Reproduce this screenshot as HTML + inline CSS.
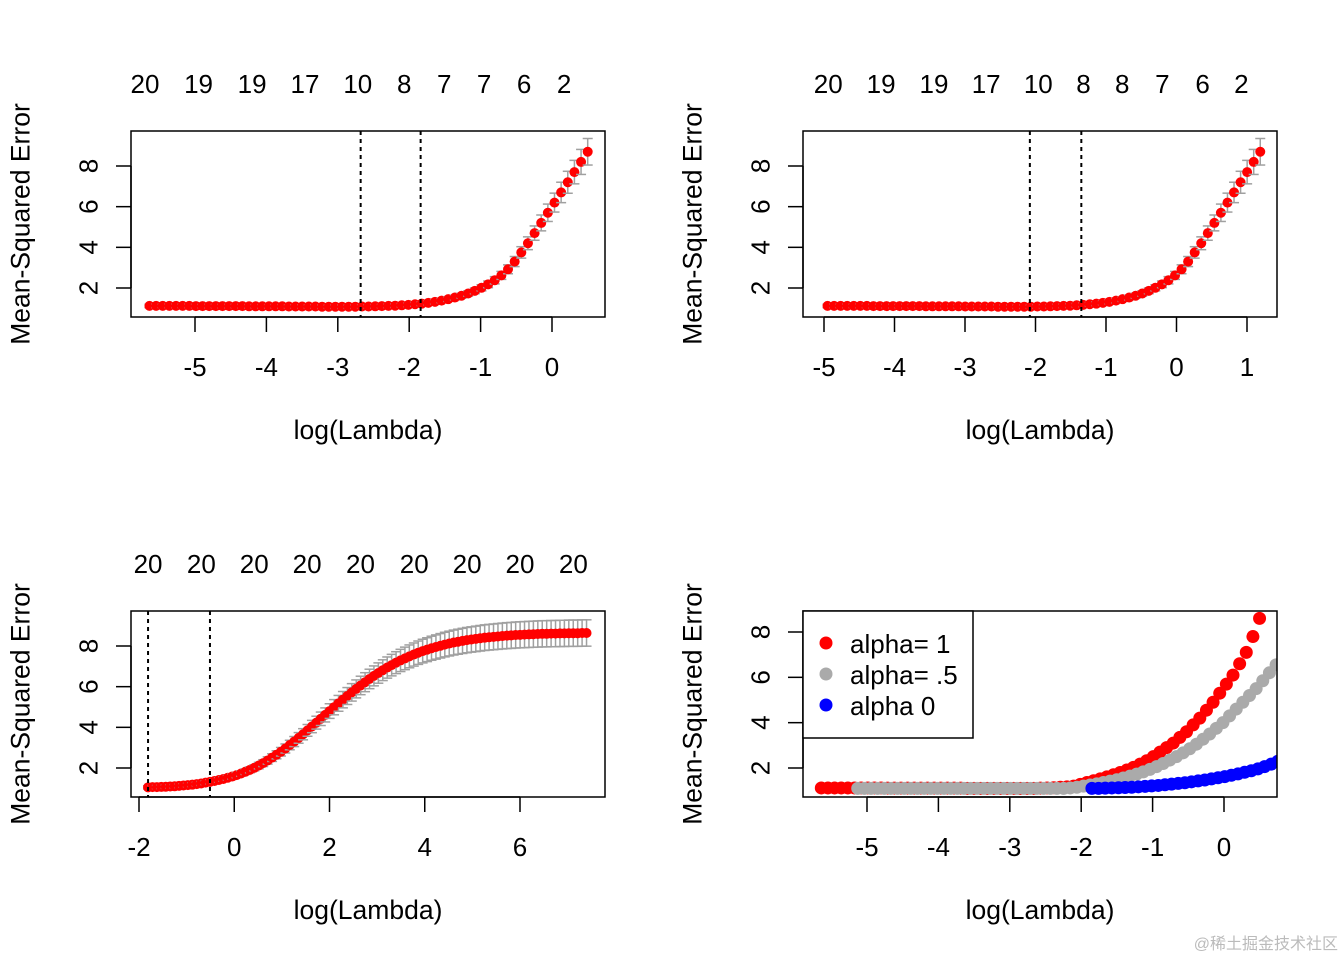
<!DOCTYPE html>
<html><head><meta charset="utf-8"><style>
html,body{margin:0;padding:0;background:#fff;width:1344px;height:960px;overflow:hidden}
svg{display:block;font-family:"Liberation Sans",Arial,sans-serif}
</style></head><body>
<svg id="chart" width="1344" height="960" viewBox="0 0 1344 960" xmlns="http://www.w3.org/2000/svg">
<text x="1338" y="949" text-anchor="end" font-size="16" fill="#bbb" font-family="'Liberation Sans','Noto Sans CJK SC',sans-serif">@稀土掘金技术社区</text>
</svg>
<script>
// ---- data ----
const step = 0.093;
const p1Start = -5.638;
const p1Mse = [1.12,1.12,1.12,1.12,1.12,1.12,1.12,1.11,1.11,1.11,1.11,1.11,1.11,1.11,1.11,1.10,1.10,1.10,1.10,1.10,1.10,
 1.09,1.09,1.09,1.09,1.09,1.08,1.08,1.08,1.08,1.08,1.08,1.09,1.09,
 1.10,1.11,1.12,1.13,1.15,1.17,1.20,1.23,1.27,1.32,
 1.38,1.45,1.53,1.62,1.73,1.86,2.01,2.18,2.38,2.62,2.92,
 3.3,3.75,4.2,4.7,5.2,5.7,6.2,6.7,7.2,7.7,8.2,8.7];
const p1Top = ["20","19","19","17","10","8","7","7","6","2"];
const p1TopX = [-5.7,-4.95,-4.2,-3.46,-2.72,-2.07,-1.51,-0.95,-0.39,0.17];
const p1VLines = [-2.68,-1.84];
const p1XTicks = [-5,-4,-3,-2,-1,0];

const p2Start = -4.95;
const p2Mse = p1Mse.slice();
const p2Top = ["20","19","19","17","10","8","8","7","6","2"];
const p2TopX = [-4.94,-4.19,-3.44,-2.70,-1.96,-1.32,-0.77,-0.20,0.37,0.92];
const p2VLines = [-2.08,-1.35];
const p2XTicks = [-5,-4,-3,-2,-1,0,1];

const p3Start = -1.81;
const p3Mse = [1.05,1.06,1.06,1.07,1.08,1.09,1.10,1.12,1.14,1.16,
 1.18,1.21,1.24,1.28,1.32,1.36,1.41,1.46,1.52,1.58,
 1.65,1.73,1.82,1.91,2.01,2.12,2.24,2.37,2.51,2.65,
 2.8,2.96,3.13,3.3,3.48,3.66,3.85,4.04,4.23,4.42,
 4.61,4.8,4.99,5.18,5.36,5.54,5.72,5.89,6.06,6.22,
 6.38,6.53,6.67,6.81,6.94,7.06,7.18,7.29,7.39,7.49,
 7.58,7.67,7.75,7.82,7.89,7.95,8.01,8.07,8.12,8.17,
 8.21,8.25,8.29,8.32,8.35,8.38,8.41,8.43,8.45,8.47,
 8.49,8.51,8.52,8.54,8.55,8.56,8.57,8.58,8.59,8.6,
 8.6,8.61,8.61,8.62,8.62,8.63,8.63,8.63,8.64,8.64];
const p3Top = ["20","20","20","20","20","20","20","20","20"];
const p3TopX = [-1.81,-0.69,0.42,1.53,2.65,3.78,4.89,6.00,7.12];
const p3VLines = [-1.81,-0.51];
const p3XTicks = [-2,0,2,4,6];

const p4RedStart = -5.64;
const p4Red = [1.12,1.12,1.12,1.12,1.12,1.12,1.12,1.12,1.12,1.12,1.11,1.11,1.11,1.11,1.11,1.11,1.11,1.11,1.11,1.11,
 1.11,1.11,1.1,1.1,1.1,1.1,1.1,1.1,1.1,1.1,1.1,1.1,1.1,1.11,1.12,1.13,1.15,1.17,
 1.2,1.28,1.36,1.44,1.52,1.61,1.7,1.8,1.91,2.03,2.17,2.32,2.5,2.7,2.9,3.1,3.35,3.6,
 3.9,4.2,4.55,4.9,5.3,5.7,6.1,6.6,7.1,7.8,8.6];
const p4GrayStart = -5.13;
const p4Gray = [1.1,1.1,1.1,1.1,1.1,1.1,1.1,1.1,1.1,1.1,1.1,1.1,1.1,1.1,1.1,1.1,1.1,1.1,1.1,1.1,
 1.1,1.1,1.1,1.1,1.1,1.1,1.1,1.1,1.1,1.1,1.1,1.1,1.12,1.15,1.2,1.25,1.3,1.36,1.42,1.48,
 1.56,1.64,1.73,1.83,1.94,2.06,2.2,2.35,2.5,2.67,2.85,3.05,3.27,3.5,3.75,4.0,4.3,4.6,4.9,5.2,
 5.5,5.85,6.2,6.55];
const p4BlueStart = -1.85;
const p4Blue = [1.1,1.1,1.11,1.12,1.13,1.14,1.15,1.17,1.19,1.21,1.23,1.26,1.29,1.32,1.35,1.39,1.43,1.47,1.52,1.57,
 1.62,1.68,1.74,1.81,1.88,1.96,2.06,2.17,2.3,2.44];
const p4XTicks = [-5,-4,-3,-2,-1,0];
const legendLabels = ["alpha= 1","alpha= .5","alpha 0"];
const yTicks = [2,4,6,8];

// ---- drawing ----
const NS = "http://www.w3.org/2000/svg";
const svg = document.getElementById('chart');
const FS = 26;
function mk(tag, attrs, parent){
  const e = document.createElementNS(NS, tag);
  for (const k in attrs) e.setAttribute(k, attrs[k]);
  (parent||svg).appendChild(e);
  return e;
}
function makeScale(d0,d1,r0,r1){ return v => r0 + (v-d0)/(d1-d0)*(r1-r0); }

function panel(cfg){
  const g = mk('g',{});
  
  
  const X = makeScale(cfg.xa[0],cfg.xa[1],cfg.xp[0],cfg.xp[1]);
  const Y = makeScale(2,8,cfg.yp[0],cfg.yp[1]);
  const L=cfg.box[0], T=cfg.box[1], R=cfg.box[2], B=cfg.box[3];
  const clipId = cfg.name+'-clip';
  const cp = mk('clipPath',{id:clipId},g);
  mk('rect',{x:L,y:T,width:R-L,height:B-T},cp);
  const plot = mk('g',{'clip-path':'url(#'+clipId+')'},g);
  cfg.series.forEach(s=>{
    const sg = mk('g',{},plot);
    
    
    s.vals.forEach((v,i)=>{
      const xv = s.start + step*i;
      const cx = X(xv), cy = Y(v);
      if (s.err){
        const se = v*0.075;
        const y1 = Y(v+se), y2 = Y(v-se);
        mk('line',{x1:cx,x2:cx,y1:y1,y2:y2,stroke:'#a0a0a0','stroke-width':1.5},sg);
        mk('line',{x1:cx-5,x2:cx+5,y1:y1,y2:y1,stroke:'#a0a0a0','stroke-width':1.5},sg);
        mk('line',{x1:cx-5,x2:cx+5,y1:y2,y2:y2,stroke:'#a0a0a0','stroke-width':1.5},sg);
      }
      const c = mk('circle',{cx:cx,cy:cy,r:s.r,fill:s.color},sg);
      
      
    });
  });
  (cfg.vlines||[]).forEach(v=>{
    const l = mk('line',{x1:X(v),x2:X(v),y1:T,y2:B,stroke:'#000','stroke-width':2,'stroke-dasharray':'4,4'},g);
    
    
  });
  const bx = mk('rect',{x:L,y:T,width:R-L,height:B-T,fill:'none',stroke:'#000','stroke-width':1.5},g);
  
  
  const xt = cfg.xticks;
  mk('line',{x1:X(xt[0]),x2:X(xt[xt.length-1]),y1:B,y2:B,stroke:'#000','stroke-width':1.5},g);
  xt.forEach(t=>{
    mk('line',{x1:X(t),x2:X(t),y1:B,y2:B+15,stroke:'#000','stroke-width':1.5},g);
    const tx = mk('text',{x:X(t),y:B+59,'text-anchor':'middle','font-size':FS},g);
    tx.textContent = t<0 ? '-'+Math.abs(t) : String(t);
    
    
  });
  yTicks.forEach(t=>{
    mk('line',{x1:L-15,x2:L,y1:Y(t),y2:Y(t),stroke:'#000','stroke-width':1.5},g);
    const tx = mk('text',{x:L-43,y:Y(t),'text-anchor':'middle','font-size':FS,transform:'rotate(-90 '+(L-43)+' '+Y(t)+')',dy:'0.36em'},g);
    tx.textContent = String(t);
    
    
  });
  mk('line',{x1:L,x2:L,y1:Y(2),y2:Y(8),stroke:'#000','stroke-width':1.5},g);
  (cfg.top||[]).forEach((lab,i)=>{
    const tx = mk('text',{x:X(cfg.topX[i]),y:T-38,'text-anchor':'middle','font-size':FS},g);
    tx.textContent = lab;
    
    
  });
  const xtl = mk('text',{x:(L+R)/2,y:B+122,'text-anchor':'middle','font-size':26.5},g);
  xtl.textContent = 'log(Lambda)';
  
  
  const yx = L-111, yy=(T+B)/2;
  const ytl = mk('text',{x:yx,y:yy,'text-anchor':'middle','font-size':26.5,transform:'rotate(-90 '+yx+' '+yy+')',dy:'0.36em'},g);
  ytl.textContent = 'Mean-Squared Error';
  
  
  return {g,X,Y};
}

panel({name:'lasso-panel',box:[131,131,605,317],xa:[-5,0],xp:[195,552],yp:[288,166],
  xticks:p1XTicks,vlines:p1VLines,top:p1Top,topX:p1TopX,
  series:[{name:'lasso-cvm',vals:p1Mse,start:p1Start,color:'#ff0000',r:5,err:true}]});
panel({name:'elastic-net-panel',box:[803,131,1277,317],xa:[-5,1],xp:[824,1247],yp:[288,166],
  xticks:p2XTicks,vlines:p2VLines,top:p2Top,topX:p2TopX,
  series:[{name:'elastic-cvm',vals:p2Mse,start:p2Start,color:'#ff0000',r:5,err:true}]});
panel({name:'ridge-panel',box:[131,611,605,797],xa:[-2,6],xp:[139,520],yp:[768,646],
  xticks:p3XTicks,vlines:p3VLines,top:p3Top,topX:p3TopX,
  series:[{name:'ridge-cvm',vals:p3Mse,start:p3Start,color:'#ff0000',r:5,err:true}]});
panel({name:'comparison-panel',box:[803,611,1277,797],xa:[-5,0],xp:[867,1224],yp:[768,632],
  xticks:p4XTicks,
  series:[{name:'alpha-1-series',vals:p4Red,start:p4RedStart,color:'#ff0000',r:6.5},
          {name:'alpha-0.5-series',vals:p4Gray,start:p4GrayStart,color:'#aaaaaa',r:6.5},
          {name:'alpha-0-series',vals:p4Blue,start:p4BlueStart,color:'#0000ff',r:6.5}]});
const lg = mk('g',{});


mk('rect',{x:803,y:611,width:170,height:127,fill:'#fff',stroke:'#000','stroke-width':1.5},lg);
const legColors = ['#ff0000','#aaaaaa','#0000ff'];
legendLabels.forEach((lab,i)=>{
  const e = mk('g',{},lg);
  
  
  mk('circle',{cx:826,cy:643+31*i,r:6.5,fill:legColors[i]},e);
  const t = mk('text',{x:850,y:653+31*i,'font-size':FS},e);
  t.textContent = lab;
});
</script>
</body></html>
